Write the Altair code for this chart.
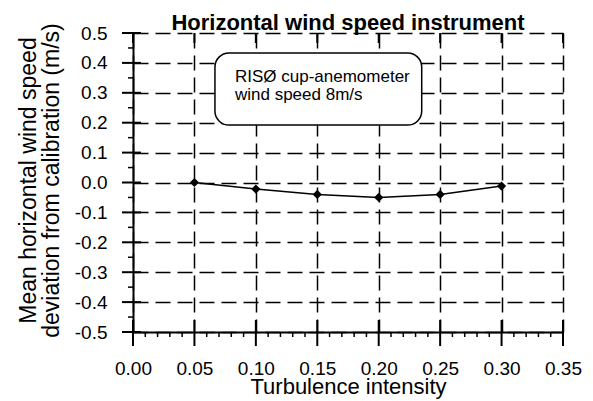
import altair as alt
import pandas as pd

# ---- data ----
turb = [0.05, 0.10, 0.15, 0.20, 0.25, 0.30]
deviation = [0.0, -0.022, -0.04, -0.05, -0.04, -0.012]

x_major = [0.00, 0.05, 0.10, 0.15, 0.20, 0.25, 0.30, 0.35]
x_minor = [0.01, 0.02, 0.03, 0.04, 0.06, 0.07, 0.08, 0.09, 0.11, 0.12, 0.13, 0.14,
           0.16, 0.17, 0.18, 0.19, 0.21, 0.22, 0.23, 0.24, 0.26, 0.27, 0.28, 0.29,
           0.31, 0.32, 0.33, 0.34]
y_major = [-0.5, -0.4, -0.3, -0.2, -0.1, 0.0, 0.1, 0.2, 0.3, 0.4, 0.5]
y_minor = [-0.45, -0.35, -0.25, -0.15, -0.05, 0.05, 0.15, 0.25, 0.35, 0.45]

note_lines = ["RISØ cup-anemometer", "wind speed 8m/s"]
note_y = [0.336, 0.276]
note_x = [0.083, 0.083]
box_x = [0.0667]
box_x2 = [0.235]
box_y = [0.433]
box_y2 = [0.192]

FONT = "Liberation Sans"
X_TITLE = "Turbulence intensity"
Y_TITLE = ["Mean horizontal wind speed", "deviation from calibration (m/s)"]

xs = alt.Scale(domain=[0, 0.35], nice=False, zero=False)
ys = alt.Scale(domain=[-0.5, 0.5], nice=False, zero=False)

x_axis = alt.Axis(
    values=x_major, tickCount=len(x_major), format=".2f", labelFont=FONT, labelFontSize=19,
    labelColor="black", labelFlush=False, labelOverlap=False, labelPadding=13,
    domain=True, domainColor="black", domainWidth=2,
    ticks=True, tickSize=14, tickOpacity=0,
    grid=True, gridColor="black", gridDash=[15, 7], gridWidth=1.5, gridOpacity=1,
    title=X_TITLE, titleFont=FONT, titleFontSize=22, titleFontWeight="normal",
    titleColor="black", titleX=215, titleY=61, titleBaseline="alphabetic", titleAlign="center",
)
y_axis = alt.Axis(
    values=y_major, tickCount=len(y_major), labelFont=FONT, labelFontSize=19, labelColor="black",
    labelExpr="replace(format(datum.value, '.1f'), '\u2212', '-')",
    labelOverlap=False, labelPadding=15, labelFlush=False,
    domain=True, domainColor="black", domainWidth=2,
    ticks=True, tickSize=11, tickOpacity=0,
    grid=True, gridColor="black", gridDash=[15, 7], gridWidth=1.5, gridOpacity=1,
    title=Y_TITLE,
    titleFont=FONT, titleFontSize=23, titleFontWeight="normal", titleColor="black",
    titleAngle=270, titleX=-98, titleY=147, titleBaseline="alphabetic", titleAlign="center",
    titleLineHeight=23,
)


def X(field="t"):
    return alt.X(f"{field}:Q", scale=xs, title=X_TITLE)


def Y(field="d"):
    return alt.Y(f"{field}:Q", scale=ys, title=Y_TITLE)


df = pd.DataFrame({"t": turb, "d": deviation})

line = alt.Chart(df).mark_line(color="black", strokeWidth=1.5).encode(
    x=alt.X("t:Q", scale=xs, axis=x_axis),
    y=alt.Y("d:Q", scale=ys, axis=y_axis),
)
pts = alt.Chart(df).mark_point(shape="diamond", filled=True, color="black", size=85, opacity=1).encode(
    x=X(), y=Y())

# tick marks (crossing majors, outward minors)
xmaj_df = pd.DataFrame({"t": x_major, "d": [-0.5] * len(x_major)})
xtop_df = pd.DataFrame({"t": x_major, "d": [0.5] * len(x_major)})
xmin_df = pd.DataFrame({"t": x_minor, "d": [-0.5] * len(x_minor)})
ymaj_df = pd.DataFrame({"d": y_major, "t": [0.0] * len(y_major)})
ymin_df = pd.DataFrame({"d": y_minor, "t": [0.0] * len(y_minor)})

xmaj_bottom = alt.Chart(xmaj_df).mark_tick(orient="vertical", size=26, thickness=2, yOffset=1,
                                           color="black", opacity=1).encode(x=X(), y=Y())
xmaj_top = alt.Chart(xtop_df).mark_tick(orient="vertical", size=10, thickness=2, yOffset=5,
                                        color="black", opacity=1).encode(x=X(), y=Y())
xmin_ticks = alt.Chart(xmin_df).mark_tick(orient="vertical", size=5, thickness=1.5, yOffset=2.5,
                                          color="black", opacity=1).encode(x=X(), y=Y())
ymaj_ticks = alt.Chart(ymaj_df).mark_tick(orient="horizontal", size=19, thickness=2, xOffset=-1.5,
                                          color="black", opacity=1).encode(x=X(), y=Y())
ymin_ticks = alt.Chart(ymin_df).mark_tick(orient="horizontal", size=5, thickness=1.5, xOffset=-2.5,
                                          color="black", opacity=1).encode(x=X(), y=Y())

box_df = pd.DataFrame({"t": box_x, "t2": box_x2, "d": box_y, "d2": box_y2})
box = alt.Chart(box_df).mark_rect(fill="white", stroke="black", strokeWidth=1.5, cornerRadius=14).encode(
    x=X(), x2="t2:Q", y=Y(), y2="d2:Q")

note_df = pd.DataFrame({"txt": note_lines, "t": note_x, "d": note_y})
note = alt.Chart(note_df).mark_text(align="left", baseline="alphabetic", font=FONT, fontSize=17,
                                    color="black").encode(x=X(), y=Y(), text="txt:N")

chart = alt.layer(
    line, box, note, xmaj_bottom, xmaj_top, xmin_ticks, ymaj_ticks, ymin_ticks, pts
).properties(
    width=430, height=299,
    title=alt.TitleParams("Horizontal wind speed instrument", font=FONT, fontSize=22,
                          fontWeight="bold", color="black", anchor="middle", offset=-12),
    autosize=alt.AutoSizeParams(type="none"),
    padding={"left": 125, "top": 25, "right": 22, "bottom": 68},
    background="white",
).configure_view(stroke=None)

chart.save("out.html", embed_options={"renderer": "svg", "actions": False})
